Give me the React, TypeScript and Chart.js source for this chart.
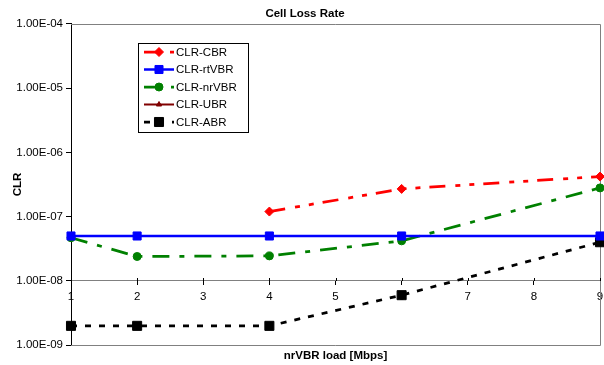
import React, { useEffect, useRef } from 'react';
import { Chart, registerables } from 'chart.js';
import { drawPoint } from 'chart.js/helpers';

Chart.register(...registerables);

// ---- data ----
const loads = [1, 2, 4, 6, 9];
const clrCBR = [null, null, 1.2e-7, 2.7e-7, 4.2e-7];
const clrRtVBR = [5.0e-8, 5.0e-8, 5.0e-8, 5.0e-8, 5.0e-8];
const clrNrVBR = [4.7e-8, 2.4e-8, 2.45e-8, 4.2e-8, 2.8e-7];
const clrUBR = [null, null, null, null, null];
const clrABR = [2.0e-9, 2.0e-9, 2.0e-9, 6.0e-9, 4.0e-8];
const seriesNames = ['CLR-CBR', 'CLR-rtVBR', 'CLR-nrVBR', 'CLR-UBR', 'CLR-ABR'];
const xTickValues = [1, 2, 3, 4, 5, 6, 7, 8, 9];
const yTickValues = [1e-9, 1e-8, 1e-7, 1e-6, 1e-5, 1e-4];
const yTickLabels = ['1.00E-09', '1.00E-08', '1.00E-07', '1.00E-06', '1.00E-05', '1.00E-04'];
const xAxisCrossing = 1e-8;
const chartTitle = 'Cell Loss Rate';
const xTitle = 'nrVBR load [Mbps]';
const yTitle = 'CLR';

const FONT = '"Liberation Sans", Arial, sans-serif';

const toPoints = (vals: (number | null)[]) => loads.map((x, i) => ({ x, y: vals[i] }));

const framePlugin = {
  id: 'frame',
  beforeDatasetsDraw(chart: any) {
    const { ctx, chartArea, scales } = chart;
    const { left, right, top, bottom } = chartArea;
    ctx.save();
    ctx.strokeStyle = '#808080';
    ctx.lineWidth = 1;
    ctx.beginPath();
    const r = Math.round(right) + 0.5;
    const t = Math.round(top) + 0.5;
    const b = Math.round(bottom) + 0.5;
    ctx.moveTo(left, t);
    ctx.lineTo(r, t);
    ctx.lineTo(r, b);
    ctx.lineTo(left, b);
    ctx.stroke();
    // upward halves of x tick marks
    const y0 = Math.round(scales.y.getPixelForValue(xAxisCrossing));
    ctx.strokeStyle = '#000';
    ctx.beginPath();
    scales.x.ticks.forEach((tk: any) => {
      const px = Math.round(scales.x.getPixelForValue(tk.value)) + 0.5;
      ctx.moveTo(px, y0 - 3);
      ctx.lineTo(px, y0);
    });
    ctx.stroke();
    ctx.restore();
  },
};

const legendPlugin = {
  id: 'customLegend',
  afterDraw(chart: any) {
    const { ctx } = chart;
    const boxX = 138.5, boxY = 43.5, boxW = 110, boxH = 89;
    ctx.save();
    ctx.fillStyle = '#fff';
    ctx.fillRect(boxX, boxY, boxW, boxH);
    ctx.strokeStyle = '#000';
    ctx.lineWidth = 1;
    ctx.strokeRect(boxX, boxY, boxW, boxH);
    chart.data.datasets.forEach((ds: any, i: number) => {
      const y = 52 + i * 17.5;
      ctx.save();
      ctx.beginPath();
      ctx.rect(144, y - 5, 30, 10);
      ctx.clip();
      ctx.strokeStyle = ds.borderColor;
      ctx.lineWidth = ds.borderWidth;
      ctx.setLineDash(ds.borderDash || []);
      ctx.beginPath();
      ctx.moveTo(144, y);
      ctx.lineTo(174, y);
      ctx.stroke();
      ctx.restore();
      ctx.setLineDash([]);
      ctx.fillStyle = ds.pointBackgroundColor;
      ctx.strokeStyle = ds.pointBorderColor;
      ctx.lineWidth = 1;
      drawPoint(ctx, { pointStyle: ds.pointStyle, radius: ds.pointRadius, rotation: 0, borderWidth: 1 }, 159, y);
      ctx.fillStyle = '#000';
      ctx.font = `11.5px ${FONT}`;
      ctx.textAlign = 'left';
      ctx.textBaseline = 'middle';
      ctx.fillText(ds.label, 176, y + 0.5);
    });
    ctx.restore();
  },
};

function makeDataset(label: string, vals: (number | null)[], color: string, dash: number[], style: string, radius: number, width: number) {
  return {
    label,
    data: toPoints(vals),
    borderColor: color,
    backgroundColor: color,
    pointBackgroundColor: color,
    pointBorderColor: color,
    pointBorderWidth: 1,
    borderWidth: width,
    borderDash: dash,
    pointStyle: style,
    pointRadius: radius,
    pointHoverRadius: radius,
    fill: false,
    tension: 0,
    clip: false,
  };
}

export default function App() {
  const ref = useRef<HTMLCanvasElement | null>(null);
  useEffect(() => {
    if (!ref.current) return;
    const chart = new Chart(ref.current, {
      type: 'line',
      data: {
        datasets: [
          makeDataset(seriesNames[0], clrCBR, '#ff0000', [16, 10, 5, 9, 5, 9], 'rectRot', 4.5, 2.75),
          makeDataset(seriesNames[1], clrRtVBR, '#0000ff', [], 'rect', 5.7, 2.5),
          makeDataset(seriesNames[2], clrNrVBR, '#008000', [17, 10, 5, 10], 'circle', 4, 2.75),
          makeDataset(seriesNames[3], clrUBR, '#800000', [], 'triangle', 3, 2),
          makeDataset(seriesNames[4], clrABR, '#000000', [6, 8], 'rect', 6.4, 2.75),
        ] as any,
      },
      options: {
        animation: false,
        responsive: false,
        events: [],
        layout: { autoPadding: false, padding: { left: 10, right: 4, top: 0, bottom: 0 } },
        plugins: {
          legend: { display: false },
          tooltip: { enabled: false },
          title: {
            display: true,
            text: chartTitle,
            color: '#000',
            font: { family: FONT, size: 11.5, weight: 'bold' },
            padding: { top: 7, bottom: 3 },
          },
          subtitle: {
            display: true,
            text: xTitle,
            position: 'bottom',
            fullSize: false,
            color: '#000',
            font: { family: FONT, size: 11.5, weight: 'bold' },
            padding: { top: 4, bottom: 2 },
          },
        },
        scales: {
          x: {
            type: 'linear',
            min: 1,
            max: 9,
            position: { y: xAxisCrossing } as any,
            afterBuildTicks: (axis: any) => {
              axis.ticks = xTickValues.map((v) => ({ value: v }));
            },
            afterFit: (scale: any) => {
              scale.paddingRight = 4;
              scale.paddingLeft = 4;
            },
            ticks: {
              color: '#000',
              font: { family: FONT, size: 11.5 },
              padding: 5.5,
              maxRotation: 0,
              autoSkip: false,
              callback: (v: any) => String(v),
            },
            grid: { drawOnChartArea: false, drawTicks: true, tickLength: 4, color: '#000' },
            border: { display: true, color: '#808080', width: 1 },
          },
          y: {
            type: 'logarithmic',
            min: 1e-9,
            max: 1e-4,
            position: 'left',
            afterBuildTicks: (axis: any) => {
              axis.ticks = yTickValues.map((v) => ({ value: v, major: true }));
            },
            afterFit: (scale: any) => {
              scale.width = 61;
            },
            ticks: {
              color: '#000',
              font: { family: FONT, size: 11.5 },
              padding: 3,
              autoSkip: false,
              callback: (_v: any, i: number) => yTickLabels[i],
            },
            grid: { drawOnChartArea: false, drawTicks: true, tickLength: 5, color: '#000' },
            border: { display: true, color: '#000', width: 1 },
            title: {
              display: true,
              text: yTitle,
              color: '#000',
              font: { family: FONT, size: 11.5, weight: 'bold' },
              padding: { top: 0.5, bottom: 0 },
            },
          },
        },
      } as any,
      plugins: [framePlugin, legendPlugin],
    });
    return () => chart.destroy();
  }, []);
  return (
    <div style={{ position: 'absolute', left: 0, top: 0, width: 604, height: 365, background: '#fff' }}>
      <canvas ref={ref} width={604} height={365} style={{ display: 'block' }} />
    </div>
  );
}
